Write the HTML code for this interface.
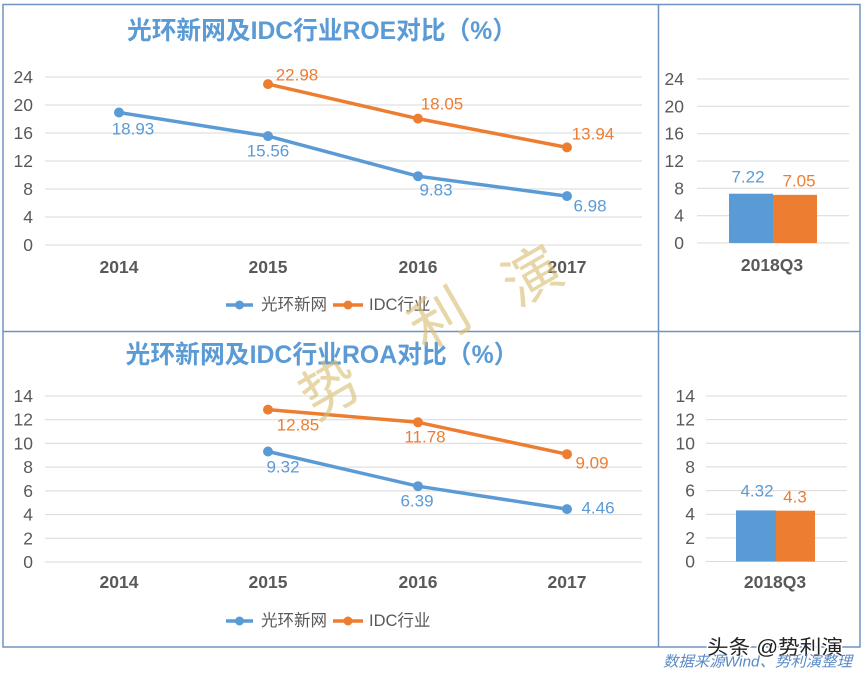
<!DOCTYPE html>
<html>
<head>
<meta charset="utf-8">
<style>
html,body{margin:0;padding:0;background:#fff;}
svg{display:block;}
text{font-family:"Liberation Sans","Noto Sans CJK SC",sans-serif;}
</style>
</head>
<body>
<svg width="863" height="678" viewBox="0 0 863 678" xmlns="http://www.w3.org/2000/svg">
<rect x="0" y="0" width="863" height="678" fill="#ffffff"/>

<!-- ===== TOP LEFT: ROE ===== -->
<g stroke="#D9D9D9" stroke-width="1">
<line x1="45" y1="245" x2="642" y2="245"/>
<line x1="45" y1="217" x2="642" y2="217"/>
<line x1="45" y1="189" x2="642" y2="189"/>
<line x1="45" y1="161" x2="642" y2="161"/>
<line x1="45" y1="133" x2="642" y2="133"/>
<line x1="45" y1="105" x2="642" y2="105"/>
<line x1="45" y1="77" x2="642" y2="77"/>
</g>
<g fill="#595959" font-size="17.5" text-anchor="end" dominant-baseline="central">
<text x="33" y="245">0</text>
<text x="33" y="217">4</text>
<text x="33" y="189">8</text>
<text x="33" y="161">12</text>
<text x="33" y="133">16</text>
<text x="33" y="105">20</text>
<text x="33" y="77">24</text>
</g>
<g fill="#595959" font-size="17.5" font-weight="bold" text-anchor="middle" dominant-baseline="central">
<text x="119" y="267">2014</text>
<text x="268" y="267">2015</text>
<text x="418" y="267">2016</text>
<text x="567" y="267">2017</text>
</g>
<text x="322" y="31" fill="#5B9BD5" font-size="25" font-weight="bold" text-anchor="middle" dominant-baseline="central" textLength="390" lengthAdjust="spacingAndGlyphs">光环新网及IDC行业ROE对比（%）</text>

<polyline points="119,112.5 268,136.1 418,176.2 567,196.1" fill="none" stroke="#5B9BD5" stroke-width="3.5" stroke-linejoin="round"/>
<g fill="#5B9BD5"><circle cx="119" cy="112.5" r="5"/><circle cx="268" cy="136.1" r="5"/><circle cx="418" cy="176.2" r="5"/><circle cx="567" cy="196.1" r="5"/></g>
<polyline points="268,84.1 418,118.65 567,147.4" fill="none" stroke="#ED7D31" stroke-width="3.5" stroke-linejoin="round"/>
<g fill="#ED7D31"><circle cx="268" cy="84.1" r="5"/><circle cx="418" cy="118.65" r="5"/><circle cx="567" cy="147.4" r="5"/></g>

<g font-size="17" text-anchor="middle" dominant-baseline="central">
<text x="133" y="129" fill="#5B9BD5">18.93</text>
<text x="268" y="151" fill="#5B9BD5">15.56</text>
<text x="436" y="190" fill="#5B9BD5">9.83</text>
<text x="590" y="206" fill="#5B9BD5">6.98</text>
<text x="297" y="75" fill="#ED7D31">22.98</text>
<text x="442" y="104" fill="#ED7D31">18.05</text>
<text x="593" y="134" fill="#ED7D31">13.94</text>
</g>

<!-- legend top -->
<line x1="226" y1="305" x2="253" y2="305" stroke="#5B9BD5" stroke-width="3.5"/>
<circle cx="239.5" cy="305" r="4.5" fill="#5B9BD5"/>
<text x="261" y="305" fill="#595959" font-size="16.5" dominant-baseline="central">光环新网</text>
<line x1="333" y1="305" x2="363" y2="305" stroke="#ED7D31" stroke-width="3.5"/>
<circle cx="348" cy="305" r="4.5" fill="#ED7D31"/>
<text x="369" y="305" fill="#595959" font-size="16.5" dominant-baseline="central">IDC行业</text>

<!-- ===== TOP RIGHT ===== -->
<g stroke="#D9D9D9" stroke-width="1">
<line x1="697" y1="243" x2="849" y2="243"/>
<line x1="697" y1="215.7" x2="849" y2="215.7"/>
<line x1="697" y1="188.3" x2="849" y2="188.3"/>
<line x1="697" y1="161" x2="849" y2="161"/>
<line x1="697" y1="133.7" x2="849" y2="133.7"/>
<line x1="697" y1="106.3" x2="849" y2="106.3"/>
<line x1="697" y1="79" x2="849" y2="79"/>
</g>
<g fill="#595959" font-size="17.5" text-anchor="end" dominant-baseline="central">
<text x="684" y="243">0</text>
<text x="684" y="215.7">4</text>
<text x="684" y="188.3">8</text>
<text x="684" y="161">12</text>
<text x="684" y="133.7">16</text>
<text x="684" y="106.3">20</text>
<text x="684" y="79">24</text>
</g>
<rect x="729" y="193.7" width="44" height="49.3" fill="#5B9BD5"/>
<rect x="773" y="194.85" width="44" height="48.15" fill="#ED7D31"/>
<g font-size="17" text-anchor="middle" dominant-baseline="central">
<text x="748" y="177" fill="#5B9BD5">7.22</text>
<text x="799" y="181" fill="#ED7D31">7.05</text>
</g>
<text x="772" y="265" fill="#595959" font-size="17.5" font-weight="bold" text-anchor="middle" dominant-baseline="central">2018Q3</text>

<!-- ===== BOTTOM LEFT: ROA ===== -->
<g stroke="#D9D9D9" stroke-width="1">
<line x1="45" y1="562" x2="642" y2="562"/>
<line x1="45" y1="538.3" x2="642" y2="538.3"/>
<line x1="45" y1="514.6" x2="642" y2="514.6"/>
<line x1="45" y1="490.9" x2="642" y2="490.9"/>
<line x1="45" y1="467.1" x2="642" y2="467.1"/>
<line x1="45" y1="443.4" x2="642" y2="443.4"/>
<line x1="45" y1="419.7" x2="642" y2="419.7"/>
<line x1="45" y1="396" x2="642" y2="396"/>
</g>
<g fill="#595959" font-size="17.5" text-anchor="end" dominant-baseline="central">
<text x="33" y="562">0</text>
<text x="33" y="538.3">2</text>
<text x="33" y="514.6">4</text>
<text x="33" y="490.9">6</text>
<text x="33" y="467.1">8</text>
<text x="33" y="443.4">10</text>
<text x="33" y="419.7">12</text>
<text x="33" y="396">14</text>
</g>
<g fill="#595959" font-size="17.5" font-weight="bold" text-anchor="middle" dominant-baseline="central">
<text x="119" y="582">2014</text>
<text x="268" y="582">2015</text>
<text x="418" y="582">2016</text>
<text x="567" y="582">2017</text>
</g>
<text x="322" y="355" fill="#5B9BD5" font-size="25" font-weight="bold" text-anchor="middle" dominant-baseline="central" textLength="393" lengthAdjust="spacingAndGlyphs">光环新网及IDC行业ROA对比（%）</text>

<polyline points="268,451.5 418,486.2 567,509.1" fill="none" stroke="#5B9BD5" stroke-width="3.5" stroke-linejoin="round"/>
<g fill="#5B9BD5"><circle cx="268" cy="451.5" r="5"/><circle cx="418" cy="486.2" r="5"/><circle cx="567" cy="509.1" r="5"/></g>
<polyline points="268,409.6 418,422.3 567,454.2" fill="none" stroke="#ED7D31" stroke-width="3.5" stroke-linejoin="round"/>
<g fill="#ED7D31"><circle cx="268" cy="409.6" r="5"/><circle cx="418" cy="422.3" r="5"/><circle cx="567" cy="454.2" r="5"/></g>

<g font-size="17" text-anchor="middle" dominant-baseline="central">
<text x="283" y="467" fill="#5B9BD5">9.32</text>
<text x="417" y="501" fill="#5B9BD5">6.39</text>
<text x="598" y="508" fill="#5B9BD5">4.46</text>
<text x="298" y="425" fill="#ED7D31">12.85</text>
<text x="425" y="437" fill="#ED7D31">11.78</text>
<text x="592" y="463" fill="#ED7D31">9.09</text>
</g>

<!-- legend bottom -->
<line x1="226" y1="621" x2="253" y2="621" stroke="#5B9BD5" stroke-width="3.5"/>
<circle cx="239.5" cy="621" r="4.5" fill="#5B9BD5"/>
<text x="261" y="621" fill="#595959" font-size="16.5" dominant-baseline="central">光环新网</text>
<line x1="333" y1="621" x2="363" y2="621" stroke="#ED7D31" stroke-width="3.5"/>
<circle cx="348" cy="621" r="4.5" fill="#ED7D31"/>
<text x="369" y="621" fill="#595959" font-size="16.5" dominant-baseline="central">IDC行业</text>

<!-- ===== BOTTOM RIGHT ===== -->
<g stroke="#D9D9D9" stroke-width="1">
<line x1="706" y1="561.5" x2="847" y2="561.5"/>
<line x1="706" y1="537.9" x2="847" y2="537.9"/>
<line x1="706" y1="514.2" x2="847" y2="514.2"/>
<line x1="706" y1="490.6" x2="847" y2="490.6"/>
<line x1="706" y1="466.9" x2="847" y2="466.9"/>
<line x1="706" y1="443.3" x2="847" y2="443.3"/>
<line x1="706" y1="419.6" x2="847" y2="419.6"/>
<line x1="706" y1="396" x2="847" y2="396"/>
</g>
<g fill="#595959" font-size="17.5" text-anchor="end" dominant-baseline="central">
<text x="695" y="561.5">0</text>
<text x="695" y="537.9">2</text>
<text x="695" y="514.2">4</text>
<text x="695" y="490.6">6</text>
<text x="695" y="466.9">8</text>
<text x="695" y="443.3">10</text>
<text x="695" y="419.6">12</text>
<text x="695" y="396">14</text>
</g>
<rect x="736" y="510.4" width="40" height="51.1" fill="#5B9BD5"/>
<rect x="776" y="510.7" width="39" height="50.8" fill="#ED7D31"/>
<g font-size="17" text-anchor="middle" dominant-baseline="central">
<text x="757" y="491" fill="#5B9BD5">4.32</text>
<text x="795" y="497" fill="#ED7D31">4.3</text>
</g>
<text x="775" y="582" fill="#595959" font-size="17.5" font-weight="bold" text-anchor="middle" dominant-baseline="central">2018Q3</text>

<!-- ===== FRAMES ===== -->
<g stroke="#6F93C0" stroke-width="1.5" fill="none">
<rect x="3" y="4.5" width="857" height="642.5"/>
<line x1="3" y1="331.5" x2="860" y2="331.5"/>
<line x1="658.5" y1="4.5" x2="658.5" y2="647"/>
</g>

<!-- ===== WATERMARK ===== -->
<g fill="#D9BE72" fill-opacity="0.62" font-size="58" text-anchor="middle" dominant-baseline="central">
<text x="328" y="385" transform="rotate(-30 328 385)" style="font-family:'Noto Sans CJK SC',sans-serif">势</text>
<text x="437" y="315" transform="rotate(-30 437 315)" style="font-family:'Noto Sans CJK SC',sans-serif">利</text>
<text x="530" y="272" transform="rotate(-30 530 272)" style="font-family:'Noto Sans CJK SC',sans-serif">演</text>
</g>

<!-- ===== FOOTER ===== -->
<text x="775" y="648" fill="#222222" stroke="#ffffff" stroke-width="3" paint-order="stroke" font-size="20" text-anchor="middle" dominant-baseline="central" textLength="136" lengthAdjust="spacingAndGlyphs">头条 @势利演</text>
<text x="663" y="662" fill="#5A8AC6" font-size="15" font-style="italic" dominant-baseline="central" textLength="189" lengthAdjust="spacingAndGlyphs">数据来源Wind、势利演整理</text>
</svg>
</body>
</html>
